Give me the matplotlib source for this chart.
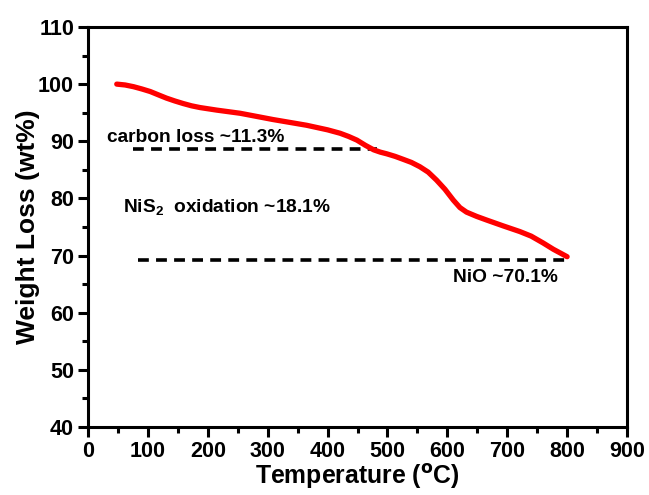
import matplotlib
matplotlib.use("Agg")
import matplotlib.pyplot as plt
from matplotlib.ticker import MultipleLocator

plt.rcParams["font.family"] = ["Liberation Sans", "DejaVu Sans"]
plt.rcParams["font.weight"] = "bold"
plt.rcParams["mathtext.default"] = "regular"

# TGA curve
temp = [48, 62, 76, 90, 104, 118, 131, 145, 159, 173, 187, 215, 254, 309,
        365, 400, 421, 435, 449, 463, 477, 488, 499, 513, 526, 540, 554,
        568, 582, 596, 610, 621, 632, 649, 666, 693, 721, 740, 760, 777, 800]
weight = [100.0, 99.85, 99.55, 99.15, 98.7, 98.1, 97.55, 97.05, 96.6, 96.2,
          95.9, 95.45, 94.9, 93.8, 92.8, 92.0, 91.4, 90.85, 90.2, 89.3, 88.5,
          88.1, 87.8, 87.35, 86.85, 86.3, 85.55, 84.6, 83.2, 81.6, 79.7, 78.4,
          77.6, 76.85, 76.2, 75.2, 74.2, 73.4, 72.2, 71.1, 69.8]

carbon_x = [75, 483]
carbon_y = [88.6, 88.6]
nio_x = [83, 798]
nio_y = [69.3, 69.3]

labels = ["carbon loss ~11.3%", "NiS$_2$  oxidation ~18.1%", "NiO ~70.1%"]
label_x = [31, 58, 609]
label_y = [90.6, 78.5, 66.2]

fig = plt.figure(figsize=(6.49, 4.95), dpi=100)
ax = fig.add_axes([0.1356, 0.1374, 0.8305, 0.8081])

ax.plot(temp, weight, color="#ff0000", lw=3.8, solid_capstyle="round",
        solid_joinstyle="round", zorder=3)
ax.plot(carbon_x, carbon_y, color="k", lw=2.6, dashes=(3.0, 2.0), zorder=2)
ax.plot(nio_x, nio_y, color="k", lw=2.6, dashes=(3.0, 2.0), zorder=2)

for s, x, y in zip(labels, label_x, label_y):
    ax.text(x, y, s, fontsize=13.8, fontweight="bold", va="center", ha="left")

ax.set_xlim(0, 900)
ax.set_ylim(40, 110)
ax.xaxis.set_major_locator(MultipleLocator(100))
ax.xaxis.set_minor_locator(MultipleLocator(50))
ax.yaxis.set_major_locator(MultipleLocator(10))
ax.yaxis.set_minor_locator(MultipleLocator(5))
ax.tick_params(which="both", direction="out", width=2.2, top=False, right=False,
               labelsize=15.5)
ax.tick_params(which="major", length=7, pad=3)
ax.tick_params(which="minor", length=4)
for sp in ax.spines.values():
    sp.set_linewidth(2.2)
for lab in ax.get_xticklabels() + ax.get_yticklabels():
    lab.set_fontweight("bold")

ax.set_xlabel("Temperature ($^{\\mathbf{o}}$C)", fontsize=17.8, fontweight="bold",
              labelpad=0)
ax.set_ylabel("Weight Loss (wt%)", fontsize=19, fontweight="bold", labelpad=-1)

fig.savefig("out.png", dpi=100)
